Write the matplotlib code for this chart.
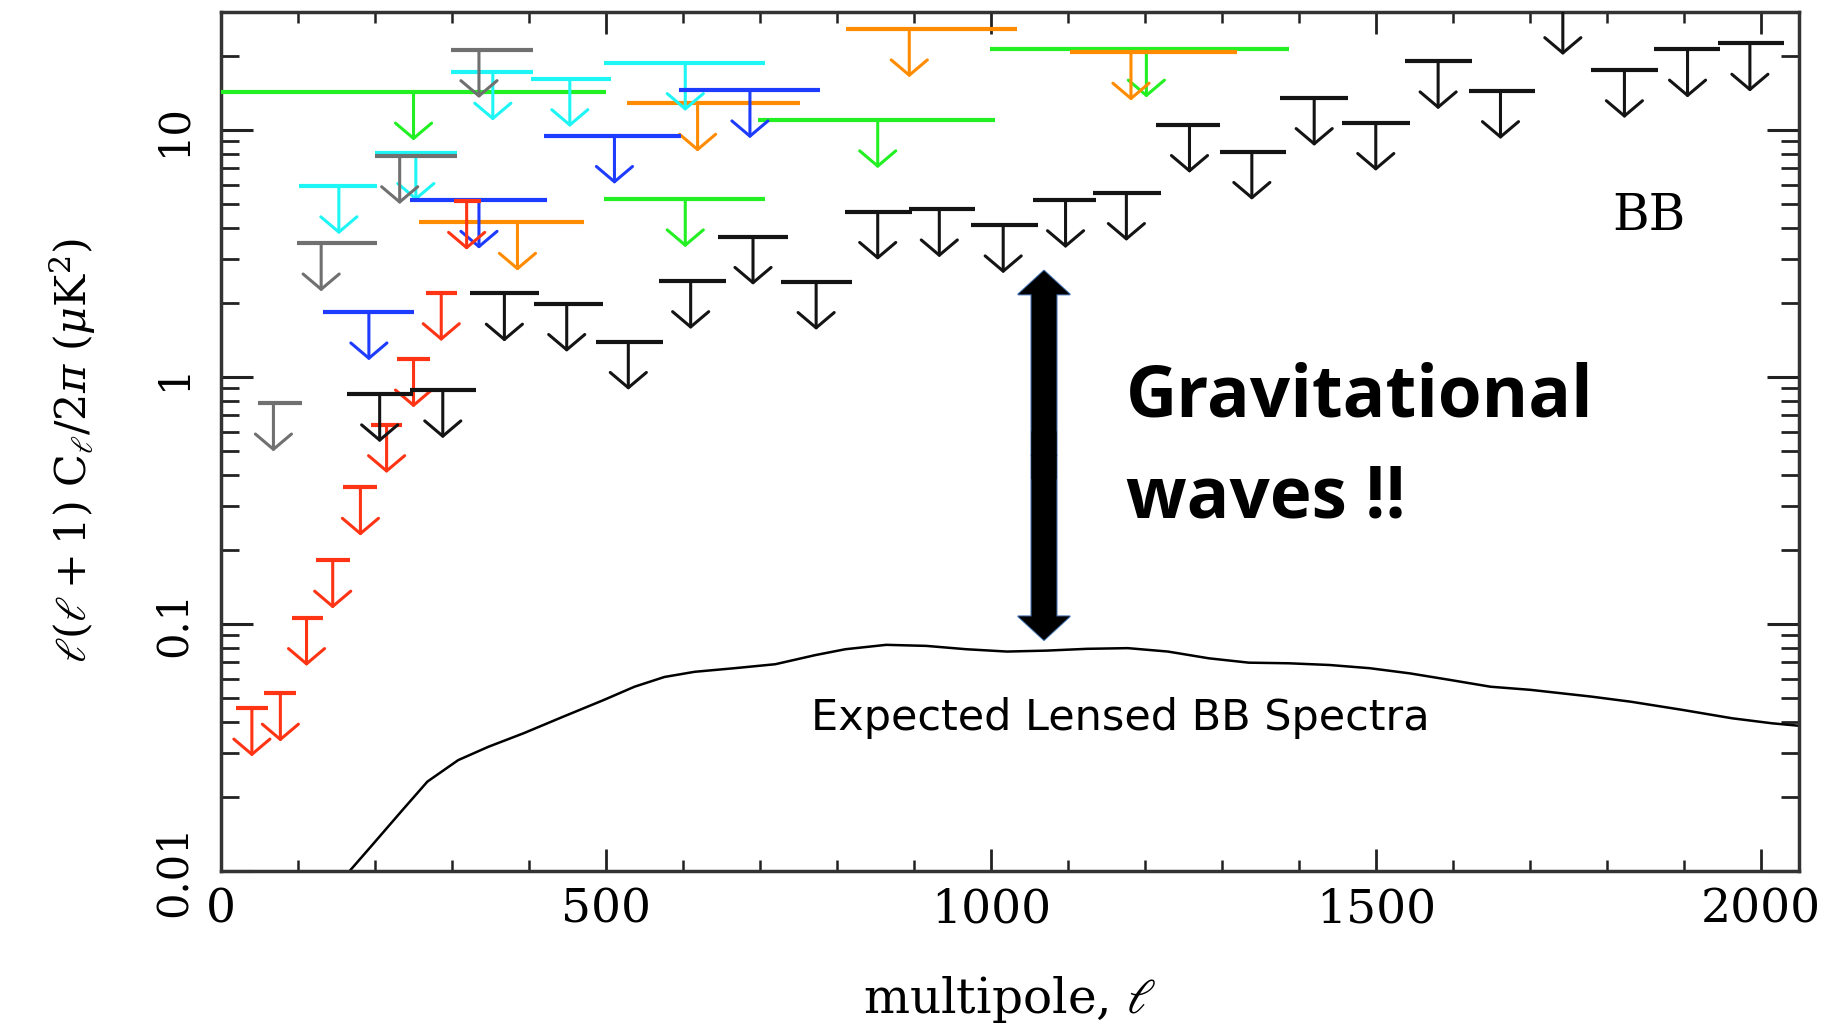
import numpy as np
import matplotlib.pyplot as plt
from matplotlib.ticker import MultipleLocator, NullFormatter

plt.rcParams['font.family'] = 'DejaVu Serif'
plt.rcParams['mathtext.fontset'] = 'dejavuserif'

# BB upper limits per experiment: bin low edge, bin high edge, bin centre, limit (uK^2)
black_lo = [164, 245, 323, 406, 487, 569, 646, 728, 811, 893, 974, 1055, 1133, 1215, 1297, 1375, 1456, 1538, 1621, 1700, 1779, 1861, 1945]
black_hi = [249, 331, 413, 496, 574, 656, 737, 819, 897, 979, 1061, 1137, 1221, 1297, 1383, 1464, 1544, 1625, 1707, 1786, 1866, 1947, 2030]
black_l = [206, 288, 368, 449, 529, 610, 691, 773, 853, 933, 1016, 1097, 1176, 1258, 1339, 1420, 1500, 1581, 1662, 1743, 1823, 1905, 1986]
black_ul = [0.853, 0.885, 2.18, 1.98, 1.39, 2.45, 3.70, 2.43, 4.67, 4.78, 4.12, 5.21, 5.57, 10.5, 8.17, 13.5, 10.7, 19.0, 14.4, 31.5, 17.5, 21.2, 22.4]

gray_lo = [48, 99, 200, 299]
gray_hi = [105, 203, 306, 405]
gray_l = [68, 130, 232, 335]
gray_ul = [0.783, 3.48, 7.85, 21.1]

red_lo = [19, 56, 92, 123, 159, 195, 229, 266, 303]
red_hi = [61, 97, 132, 168, 202, 235, 271, 306, 338]
red_l = [40, 77, 111, 145, 181, 215, 250, 286, 319]
red_ul = [0.0456, 0.0524, 0.106, 0.181, 0.357, 0.640, 1.18, 2.19, 5.13]

blue_lo = [133, 245, 420, 595]
blue_hi = [250, 424, 597, 778]
blue_l = [192, 335, 511, 687]
blue_ul = [1.83, 5.18, 9.48, 14.5]

cyan_lo = [101, 200, 299, 402, 498]
cyan_hi = [203, 306, 405, 506, 706]
cyan_l = [153, 253, 353, 453, 603]
cyan_ul = [5.93, 8.09, 17.1, 16.1, 18.7]

orange_lo = [257, 527, 812, 1103]
orange_hi = [471, 752, 1034, 1320]
orange_l = [385, 619, 894, 1182]
orange_ul = [4.22, 12.8, 25.6, 20.6]

green_lo = [0, 498, 698, 999]
green_hi = [500, 706, 1005, 1387]
green_l = [250, 603, 853, 1202]
green_ul = [14.2, 5.25, 10.97, 21.2]

# expected lensing BB spectrum
lens_l = [167, 196, 236, 268, 308, 347, 393, 445, 497, 537, 576, 615, 667, 720, 772, 811, 864, 916,
          968, 1021, 1073, 1125, 1178, 1230, 1283, 1335, 1387, 1440, 1492, 1544, 1597, 1649, 1701,
          1780, 1832, 1898, 1963, 2015, 2050]
lens_cl = [0.0100, 0.0127, 0.0177, 0.0230, 0.0281, 0.0318, 0.0361, 0.0422, 0.0492, 0.0557, 0.0610,
           0.0640, 0.0662, 0.0687, 0.0748, 0.0790, 0.0823, 0.0815, 0.0790, 0.0773, 0.0780, 0.0793,
           0.0798, 0.0773, 0.0726, 0.0697, 0.0693, 0.0682, 0.0662, 0.0631, 0.0593, 0.0557, 0.0541,
           0.0508, 0.0484, 0.0449, 0.0415, 0.0396, 0.0387]

# gap between the best limit and the lensing signal
gap_l = 1069
gap_top = 2.69
gap_bottom = 0.0861

ARROW_DEC = 0.195  # length of the limit arrows in decades

fig = plt.figure(figsize=(18.47, 10.26), dpi=100)
ax = fig.add_axes([0.1197, 0.1511, 0.8544, 0.8372])
ax.set_yscale('log')
ax.set_xlim(0, 2050)
ax.set_ylim(0.01, 30)


def limits(lo, hi, ell, ul, color):
    ax.hlines(ul, lo, hi, colors=color, lw=3, zorder=3)
    for l, u in zip(ell, ul):
        ann = ax.annotate('', xy=(l, u * 10 ** -ARROW_DEC), xytext=(l, u),
                          arrowprops=dict(arrowstyle='->,head_length=11,head_width=13',
                                          color=color, lw=2.2, shrinkA=0, shrinkB=0,
                                          mutation_scale=1),
                          annotation_clip=False)
        ann.arrow_patch.set_clip_box(ax.bbox)


limits(green_lo, green_hi, green_l, green_ul, '#22f022')
limits(orange_lo, orange_hi, orange_l, orange_ul, '#ff8c00')
limits(cyan_lo, cyan_hi, cyan_l, cyan_ul, '#1ef5f5')
limits(blue_lo, blue_hi, blue_l, blue_ul, '#1e3cff')
limits(gray_lo, gray_hi, gray_l, gray_ul, '#707070')
limits(red_lo, red_hi, red_l, red_ul, '#ff3414')
limits(black_lo, black_hi, black_l, black_ul, '#141414')

ax.plot(lens_l, lens_cl, color='k', lw=1.8, zorder=2)

# double headed arrow: two halves from the middle, outlined layer below, plain black on top
gap_mid = np.sqrt(gap_top * gap_bottom)
big_arrow = 'simple,head_length=17,head_width=37,tail_width=18'
for end in (gap_top, gap_bottom):
    ax.annotate('', xy=(gap_l, end), xytext=(gap_l, gap_mid),
                arrowprops=dict(arrowstyle=big_arrow, fc='black', ec='#4a78b5', lw=1.5,
                                shrinkA=0, shrinkB=0, mutation_scale=1), zorder=4)
for end, start in ((gap_top, gap_mid * 0.8), (gap_bottom, gap_mid / 0.8)):
    ax.annotate('', xy=(gap_l, end), xytext=(gap_l, start),
                arrowprops=dict(arrowstyle=big_arrow, fc='black', ec='none',
                                shrinkA=0, shrinkB=0, mutation_scale=1), zorder=5)

ax.text(1175, 0.689, 'Gravitational', family='Open Sans', fontweight='bold',
        fontsize=51, va='baseline', ha='left')
ax.text(1175, 0.269, 'waves !!', family='Open Sans', fontweight='bold',
        fontsize=51, va='baseline', ha='left')
ax.text(1168, 0.0416, 'Expected Lensed BB Spectra', family='DejaVu Sans',
        fontsize=31, ha='center', va='center')
ax.text(1855, 4.49, 'BB', family='DejaVu Serif', fontsize=36, ha='center', va='center')

# axes, ticks
ax.xaxis.set_major_locator(MultipleLocator(500))
ax.xaxis.set_minor_locator(MultipleLocator(100))
ax.set_yticks([0.01, 0.1, 1, 10])
ax.set_yticklabels(['0.01', '0.1', '1', '10'])
ax.yaxis.set_minor_formatter(NullFormatter())

ax.tick_params(which='both', direction='in', top=True, right=True, color='#222222')
ax.tick_params(axis='x', which='major', length=16, width=2, pad=12, labelsize=34)
ax.tick_params(axis='x', which='minor', length=8, width=1.8)
ax.tick_params(axis='y', which='major', length=23, width=2.2, pad=19, labelsize=30)
ax.tick_params(axis='y', which='minor', length=13, width=2)
plt.setp(ax.get_yticklabels(), rotation=90, va='center')

for sp in ax.spines.values():
    sp.set_linewidth(2.5)
    sp.set_color('#333333')

ax.set_xlabel(r'multipole, $\ell$', fontsize=35)
ax.xaxis.set_label_coords(0.5, -0.12)
ax.set_ylabel(r'$\ell(\ell+1)\ \mathrm{C}_\ell/2\pi\ (\mu\mathrm{K}^2)$', fontsize=31)
ax.yaxis.set_label_coords(-0.078, 0.49)

fig.savefig('out.png', dpi=100)
